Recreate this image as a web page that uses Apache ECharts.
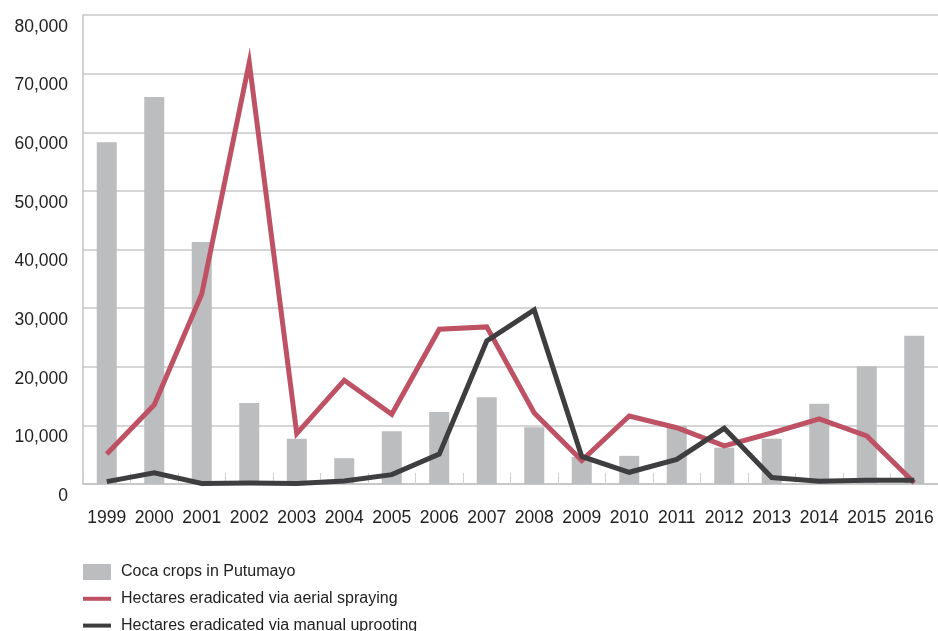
<!DOCTYPE html>
<html>
<head>
<meta charset="utf-8">
<script src="https://cdn.jsdelivr.net/npm/echarts@6/dist/echarts.min.js"></script>
<style>
html,body{margin:0;padding:0;background:#fff;}
#chart{width:938px;height:631px;}
</style>
</head>
<body>
<div id="chart"></div>
<script>
const years = ['1999','2000','2001','2002','2003','2004','2005','2006','2007','2008','2009','2010','2011','2012','2013','2014','2015','2016'];
const cocaCrops = [58300, 66000, 41300, 13800, 7700, 4400, 9000, 12300, 14800, 9700, 4600, 4800, 9900, 6200, 7700, 13700, 20100, 25300];
const aerialSpraying = [5100, 13500, 32400, 71900, 8600, 17700, 11900, 26400, 26800, 12100, 4000, 11600, 9600, 6500, 8700, 11100, 8200, 200];
const manualUprooting = [400, 1900, 100, 150, 100, 500, 1600, 5100, 24400, 29700, 4700, 2000, 4200, 9500, 1100, 450, 650, 650];
const seriesNames = ['Coca crops in Putumayo', 'Hectares eradicated via aerial spraying', 'Hectares eradicated via manual uprooting'];

const font = '"Liberation Sans", Arial, sans-serif';
const chart = echarts.init(document.getElementById('chart'));
chart.setOption({
  animation: false,
  backgroundColor: '#fff',
  textStyle: { fontFamily: font },
  grid: { left: 83, right: 0, top: 15, bottom: 147, containLabel: false },
  legend: {
    orient: 'vertical',
    left: 83,
    top: 564,
    height: 120,
    padding: 0,
    itemWidth: 28,
    itemHeight: 16,
    itemGap: 10.8,
    textStyle: { fontSize: 16, color: '#222', fontFamily: font, padding: [0,0,0,5] },
    data: [
      { name: seriesNames[0], icon: 'rect' },
      { name: seriesNames[1], icon: 'path://M0,0H28V4H0Z' },
      { name: seriesNames[2], icon: 'path://M0,0H28V4H0Z' }
    ]
  },
  xAxis: {
    type: 'category',
    data: years,
    boundaryGap: true,
    axisLine: { show: true, lineStyle: { color: '#c4c4c4', width: 1.5 } },
    axisTick: { show: true, inside: true, length: 11, interval: 0, alignWithLabel: false, lineStyle: { color: '#d0d0d0' } },
    axisLabel: { fontSize: 17.5, color: '#222', margin: 25, interval: 0, fontFamily: font }
  },
  yAxis: {
    type: 'value',
    min: 0,
    max: 80000,
    interval: 10000,
    axisLine: { show: true, lineStyle: { color: '#c4c4c4', width: 1.5 } },
    axisTick: { show: false },
    splitLine: { lineStyle: { color: '#c8c8c8', width: 1.5 } },
    axisLabel: {
      fontSize: 17.5, color: '#222', margin: 15, fontFamily: font,
      verticalAlign: 'top', padding: [3, 0, 0, 0],
      formatter: v => v.toLocaleString('en-US')
    }
  },
  series: [
    {
      name: seriesNames[0],
      type: 'bar',
      data: cocaCrops,
      barWidth: 20,
      itemStyle: { color: '#bcbdbf' }
    },
    {
      name: seriesNames[1],
      type: 'line',
      data: aerialSpraying,
      symbol: 'none',
      color: '#be5163',
      lineStyle: { color: '#be5163', width: 5, join: 'miter', miterLimit: 20 },
      z: 3
    },
    {
      name: seriesNames[2],
      type: 'line',
      data: manualUprooting,
      symbol: 'none',
      color: '#3e3e40',
      lineStyle: { color: '#3e3e40', width: 5, join: 'miter', miterLimit: 20 },
      z: 4
    }
  ]
});
</script>
</body>
</html>
